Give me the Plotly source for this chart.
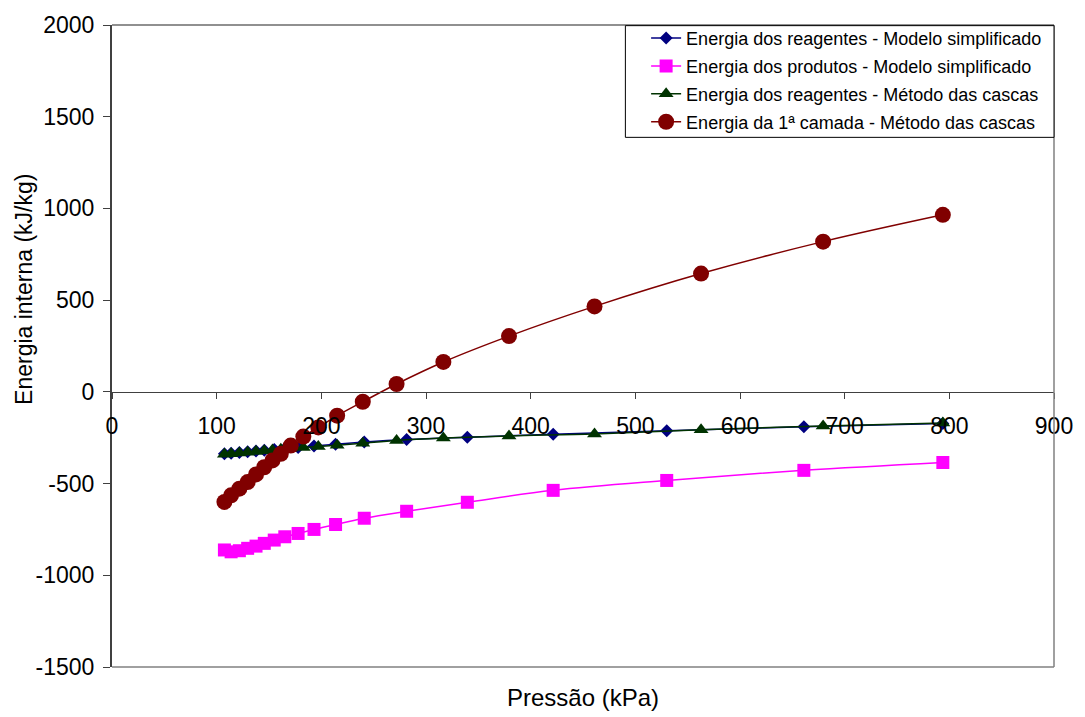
import plotly.graph_objects as go

# Pressure (kPa) and internal energy (kJ/kg) series
simp_p = [107.4, 113.8, 121.7, 129.6, 137.6, 145.5, 155.0, 165.1, 177.8, 193.0,
          213.6, 241.0, 281.5, 339.5, 421.5, 530.0, 661.0, 793.8]
simp_reag = [-338, -335, -331, -327, -323, -319, -314, -309, -303, -295,
             -286, -274, -260, -247, -231, -212, -190, -172]
simp_prod = [-862, -872, -866, -853, -841, -826, -808, -790, -772, -750,
             -723, -689, -651, -602, -537, -483, -428, -385]

shell_p = [107.4, 113.8, 121.7, 129.6, 137.6, 145.4, 153.3, 161.3, 170.8, 182.8,
           197.1, 215.1, 239.6, 271.9, 316.6, 379.3, 461.0, 562.8, 679.4, 793.8]
shell_reag = [-340, -337, -333, -329, -325, -321, -317, -313, -308, -303,
              -298, -291, -280, -265, -252, -240, -230, -207, -186, -170]
shell_layer1 = [-600, -564, -528, -492, -450, -411, -374, -338, -293, -244,
                -194, -130, -54, 43, 163, 304, 466, 645, 819, 965]

names = [
    "Energia dos reagentes - Modelo simplificado",
    "Energia dos produtos - Modelo simplificado",
    "Energia dos reagentes - Método das cascas",
    "Energia da 1ª camada - Método das cascas",
]

x_ticks = [0, 100, 200, 300, 400, 500, 600, 700, 800, 900]
y_ticks = [-1500, -1000, -500, 0, 500, 1000, 1500, 2000]

FONT = "Liberation Sans, Arial, sans-serif"
Y_MIN, Y_MAX = -1500, 2000

fig = go.Figure()
fig.add_trace(go.Scatter(
    x=simp_p, y=simp_reag, name=names[0], mode="lines+markers", legendgroup="a",
    line=dict(color="#000080", width=1.5, shape="spline"),
    marker=dict(symbol="diamond", size=10, color="#000080"),
))
fig.add_trace(go.Scatter(
    x=simp_p, y=simp_prod, name=names[1], mode="lines+markers", legendgroup="b",
    line=dict(color="#FF00FF", width=1.5, shape="spline"),
    marker=dict(symbol="square", size=13, color="#FF00FF"),
))
fig.add_trace(go.Scatter(
    x=shell_p, y=shell_reag, name=names[2], mode="lines+markers", legendgroup="c",
    line=dict(color="#003300", width=1.5, shape="spline"),
    marker=dict(symbol="triangle-up", size=13, color="#003300"),
))
fig.add_trace(go.Scatter(
    x=shell_p, y=shell_layer1, name=names[3], mode="lines+markers", legendgroup="d",
    line=dict(color="#800000", width=1.5, shape="spline"),
    marker=dict(symbol="circle", size=16, color="#800000"),
))

zero_pos = (0 - Y_MIN) / (Y_MAX - Y_MIN)


def label(v):
    # plain hyphen for negatives
    return str(v)


fig.update_layout(
    width=1085, height=717,
    margin=dict(l=112, r=26, t=22, b=50),
    paper_bgcolor="white", plot_bgcolor="white",
    font=dict(family=FONT, color="black"),
    showlegend=True,
    legend=dict(
        x=0.567, y=1.008, xanchor="left", yanchor="top",
        bgcolor="rgba(0,0,0,0)", borderwidth=0,
        traceorder="grouped", tracegroupgap=1.5,
        font=dict(family=FONT, size=18, color="black"),
    ),
    xaxis=dict(
        range=[0, 900], tickvals=x_ticks, ticktext=[label(v) for v in x_ticks],
        anchor="free", position=zero_pos,
        showline=True, linecolor="#404040", linewidth=1,
        ticks="outside", ticklen=6, tickcolor="#404040",
        ticklabelstandoff=8,
        showgrid=False, zeroline=False,
        tickfont=dict(family=FONT, size=23, color="black"),
    ),
    yaxis=dict(
        range=[Y_MIN, Y_MAX], tickvals=y_ticks, ticktext=[label(v) for v in y_ticks],
        showline=True, linecolor="#404040", linewidth=2,
        ticks="outside", ticklen=7, tickcolor="#404040",
        ticklabelstandoff=4,
        showgrid=False, zeroline=False,
        tickfont=dict(family=FONT, size=23, color="black"),
    ),
    shapes=[
        # plot frame (top, right, bottom)
        dict(type="line", xref="paper", yref="paper", x0=0, x1=1, y0=1, y1=1,
             line=dict(color="#909090", width=2)),
        dict(type="line", xref="paper", yref="paper", x0=1, x1=1, y0=0, y1=1,
             line=dict(color="#808080", width=1.5)),
        dict(type="line", xref="paper", yref="paper", x0=0, x1=1, y0=0, y1=0,
             line=dict(color="#808080", width=1.5)),
        # legend box
        dict(type="rect", xref="paper", yref="paper",
             x0=0.545, x1=1.0, y0=0.825, y1=0.999,
             line=dict(color="black", width=1), fillcolor="white", layer="above"),
    ],
    annotations=[
        dict(text="Pressão (kPa)", xref="paper", yref="paper", x=0.5, y=-0.047,
             xanchor="center", yanchor="middle", showarrow=False,
             font=dict(family=FONT, size=24, color="black")),
        dict(text="Energia interna (kJ/kg)", xref="paper", yref="paper",
             x=-0.094, y=0.588, textangle=-90, xanchor="center", yanchor="middle",
             showarrow=False, font=dict(family=FONT, size=23, color="black")),
    ],
)

fig.write_html("out.html")
